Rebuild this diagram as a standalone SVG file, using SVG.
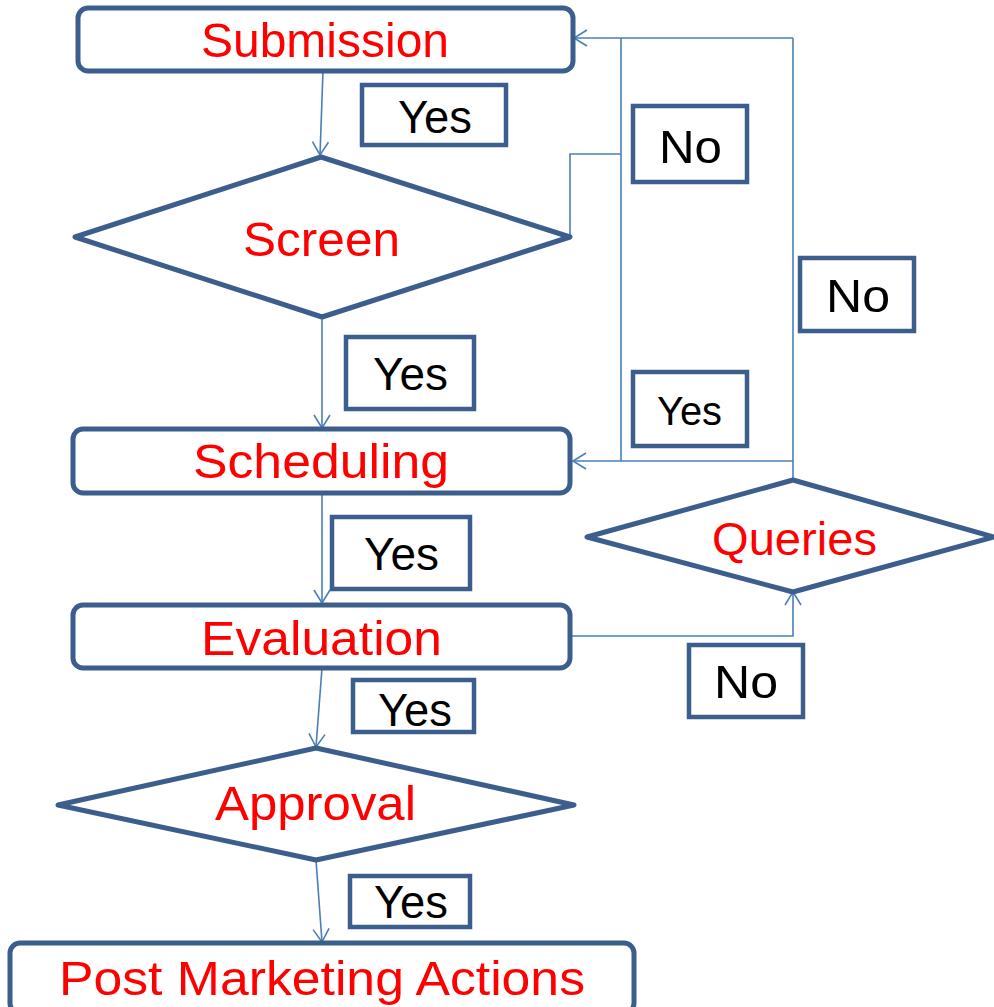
<svg xmlns="http://www.w3.org/2000/svg" width="994" height="1007" viewBox="0 0 994 1007">
<style>
.node{fill:#fff;stroke:#3B5E8C;stroke-width:5;stroke-linejoin:round}
.lbl{fill:#fff;stroke:#3B5E8C;stroke-width:4.5}
.nt{font-family:"Liberation Sans",Arial,sans-serif;fill:#FF0000;text-anchor:start}
.lt{font-family:"Liberation Sans",Arial,sans-serif;fill:#000;text-anchor:start}
.c{fill:none;stroke:#4A7EBB;stroke-width:1.6}
</style>
<defs>
<marker id="a" markerUnits="userSpaceOnUse" markerWidth="16" markerHeight="20" refX="14" refY="10" orient="auto" viewBox="0 0 16 20">
<path d="M1,2 L14,10 L1,18" fill="none" stroke="#4A7EBB" stroke-width="1.6"/>
</marker>
</defs>
<g id="connectors">
<path class="c" d="M323,71 L320,155" marker-end="url(#a)"/>
<path class="c" d="M322,317 L322,428" marker-end="url(#a)"/>
<path class="c" d="M322,493 L322,603" marker-end="url(#a)"/>
<path class="c" d="M322,668 L316,747" marker-end="url(#a)"/>
<path class="c" d="M316,860 L322,942" marker-end="url(#a)"/>
<path class="c" d="M570,237 L570,154 L621,154"/>
<path class="c" d="M621,461 L621,38"/>
<path class="c" d="M793,38 L574,38" marker-end="url(#a)"/>
<path class="c" d="M793,480 L793,38"/>
<path class="c" d="M793,461 L573,461" marker-end="url(#a)"/>
<path class="c" d="M570,636 L793,636 L793,592" marker-end="url(#a)"/>
</g>
<g id="submission">
<rect class="node" x="78" y="8" width="495" height="63" rx="10"/>
<text class="nt" x="201" y="57" font-size="49" textLength="248" lengthAdjust="spacingAndGlyphs">Submission</text>
</g>
<g id="screen">
<polygon class="node" points="75,237 321,157 570,237 322,317"/>
<text class="nt" x="243" y="256" font-size="49" textLength="157" lengthAdjust="spacingAndGlyphs">Screen</text>
</g>
<g id="scheduling">
<rect class="node" x="73" y="429" width="497" height="64" rx="10"/>
<text class="nt" x="193" y="478" font-size="49" textLength="256" lengthAdjust="spacingAndGlyphs">Scheduling</text>
</g>
<g id="evaluation">
<rect class="node" x="73" y="605" width="497" height="63" rx="10"/>
<text class="nt" x="201" y="655" font-size="49" textLength="241" lengthAdjust="spacingAndGlyphs">Evaluation</text>
</g>
<g id="queries">
<polygon class="node" points="587,537 793,480 994,537 793,592"/>
<text class="nt" x="712" y="555" font-size="47" textLength="165" lengthAdjust="spacingAndGlyphs">Queries</text>
</g>
<g id="approval">
<polygon class="node" points="58,805 316,748 574,805 316,860"/>
<text class="nt" x="215" y="820" font-size="49" textLength="201" lengthAdjust="spacingAndGlyphs">Approval</text>
</g>
<g id="post-marketing">
<rect class="node" x="10" y="943" width="624" height="70" rx="10"/>
<text class="nt" x="59" y="995" font-size="49" textLength="526" lengthAdjust="spacingAndGlyphs">Post Marketing Actions</text>
</g>
<g id="label-yes-1">
<rect class="lbl" x="362" y="85" width="144" height="60"/>
<text class="lt" x="398" y="133" font-size="47" textLength="74" lengthAdjust="spacingAndGlyphs">Yes</text>
</g>
<g id="label-no-1">
<rect class="lbl" x="633" y="106" width="114" height="76"/>
<text class="lt" x="659" y="163" font-size="47" textLength="63" lengthAdjust="spacingAndGlyphs">No</text>
</g>
<g id="label-no-2">
<rect class="lbl" x="800" y="258" width="114" height="73"/>
<text class="lt" x="826" y="312" font-size="47" textLength="64" lengthAdjust="spacingAndGlyphs">No</text>
</g>
<g id="label-yes-2">
<rect class="lbl" x="346" y="337" width="128" height="72"/>
<text class="lt" x="373" y="390" font-size="47" textLength="75" lengthAdjust="spacingAndGlyphs">Yes</text>
</g>
<g id="label-yes-3">
<rect class="lbl" x="633" y="372" width="114" height="74"/>
<text class="lt" x="657" y="425" font-size="41" textLength="65" lengthAdjust="spacingAndGlyphs">Yes</text>
</g>
<g id="label-yes-4">
<rect class="lbl" x="332" y="517" width="138" height="72"/>
<text class="lt" x="364" y="570" font-size="47" textLength="75" lengthAdjust="spacingAndGlyphs">Yes</text>
</g>
<g id="label-no-3">
<rect class="lbl" x="689" y="645" width="114" height="72"/>
<text class="lt" x="714" y="698" font-size="47" textLength="64" lengthAdjust="spacingAndGlyphs">No</text>
</g>
<g id="label-yes-5">
<rect class="lbl" x="353" y="680" width="121" height="52"/>
<text class="lt" x="378" y="726" font-size="47" textLength="74" lengthAdjust="spacingAndGlyphs">Yes</text>
</g>
<g id="label-yes-6">
<rect class="lbl" x="350" y="876" width="120" height="51"/>
<text class="lt" x="374" y="918" font-size="47" textLength="74" lengthAdjust="spacingAndGlyphs">Yes</text>
</g>
</svg>
